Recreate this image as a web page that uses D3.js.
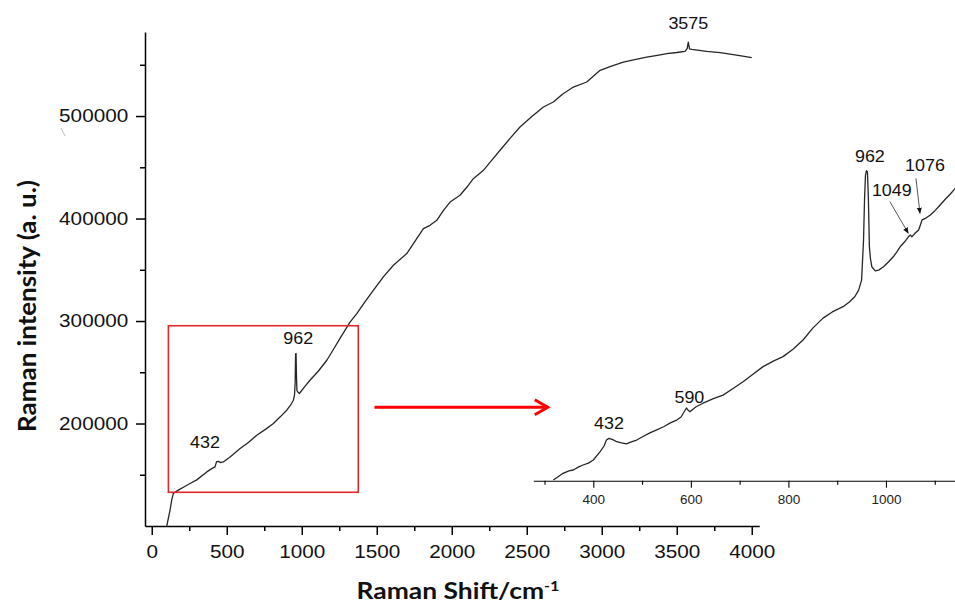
<!DOCTYPE html>
<html><head><meta charset="utf-8">
<script src="https://cdn.jsdelivr.net/npm/d3@7"></script>
<style>body{margin:0;background:#fff}svg{display:block}</style>
</head><body>
<svg id="chart" width="955" height="605"></svg>
<script>
// ---------- data ----------
const mainShift = [100,122,133,144,177,220,255,300,367,400,422,432,445,460,477,520,589,640,700,760,811,860,900,930,944,952,956,959,962,965,968,975,984,1020,1055,1110,1167,1210,1255,1322,1367,1420,1477,1544,1611,1700,1760,1811,1855,1900,1945,1989,2055,2100,2144,2211,2270,2322,2390,2455,2530,2611,2677,2740,2811,2900,2989,3060,3144,3220,3300,3380,3433,3500,3555,3570,3577,3585,3600,3650,3700,3789,3877,3940,4000];
const mainIntensity = [100000,115600,125300,131800,135000,138500,141500,145000,152800,156000,157700,162800,163000,161800,162500,167000,175600,181000,188600,194500,200000,207000,213000,219000,222700,228000,240000,268000,268300,245000,232000,230500,229300,236000,242200,251000,261700,272000,283000,299000,307300,318500,330000,343000,354400,365800,379000,390200,393400,398300,408000,416100,422700,430500,438900,447000,457500,466600,478500,489300,499000,508800,513700,521500,528300,533200,544600,548500,552700,555000,557500,559500,560900,562000,563100,566000,572200,565500,565000,564000,563100,561800,559900,558500,557000];

const insetShift = [318,330,338,350,359,370,379,390,400,414,422,427,432,440,448,458,468,478,489,500,516,530,544,558,571,580,586,591,594,598,610,625,645,666,685,707,728,748,770,789,810,830,850,871,890,912,925,936,944,950,954,956,958,960,962,964,966,968,971,978,985,995,1005,1015,1022,1029,1038,1046,1050,1053,1060,1067,1074,1082,1091,1100,1111,1122,1132,1142];
const insetIntensity = [140300,142000,143100,144100,144500,145800,146600,147400,148700,152200,154600,157100,157800,157300,156400,155900,155500,156300,157100,158400,160100,161400,162700,164300,165500,166800,168900,170600,169700,169000,171000,172600,174400,176000,178600,181600,184900,188000,190400,192200,195400,199200,204200,208400,211000,213200,215200,217400,220200,224400,241200,258100,268600,270400,269900,258100,238400,233700,230000,228300,228600,230000,232000,234200,236200,238400,240400,242600,243400,242600,244200,245500,249700,250500,251800,253500,256000,258500,260600,263000];

const xTickValues = [0,500,1000,1500,2000,2500,3000,3500,4000];
const xMinorTicks = [250,750,1250,1750,2250,2750,3250,3750];
const yTickValues = [200000,300000,400000,500000];
const yMinorTicks = [150000,250000,350000,450000,550000];
const insetTickValues = [400,600,800,1000];
const insetMinorTicks = [300,500,700,900,1100];

const mainLabels = ["432","962","3575"];
const mainLabelShift = [355,977,3577];
const mainLabelIntensity = [181300,283100,590500];

const insetLabels = ["432","590","962","1049","1076"];
const insetLabelShift = [432,597,967,1012,1080];
const insetLabelIntensity = [164300,175300,276300,262300,272800];

const insetArrowFromShift = [1008,1061.5];
const insetArrowFromIntensity = [257400,267200];
const insetArrowToShift = [1045.7,1069.7];
const insetArrowToIntensity = [244100,252500];

const zoomBoxShift = [111,1377];
const zoomBoxIntensity = [132900,295400];
const bigArrowShift = [1485,2640];
const bigArrowIntensity = 215800;

// ---------- scales ----------
const svg = d3.select("#chart");
const x = d3.scaleLinear().domain([-45,4050]).range([145,759.25]);
const y = d3.scaleLinear().domain([100000,582000]).range([526,32]);
const xi = d3.scaleLinear().domain([277,1141.5]).range([533.3,955]);
const yi = d3.scaleLinear().domain([140000,270000]).range([480.7,171.7]);

const numFont = "'Liberation Sans', Arial, sans-serif";
const SX = 1.12;

svg.append("defs").append("marker")
  .attr("id","ah").attr("viewBox","0 0 10 10").attr("refX",9).attr("refY",5)
  .attr("markerWidth",7).attr("markerHeight",7).attr("orient","auto")
  .append("path").attr("d","M0,1 L10,5 L0,9 Z").attr("fill","#111");

// stray mark in reference
svg.append("line").attr("x1",61).attr("y1",128).attr("x2",65).attr("y2",136)
  .attr("stroke","#bbb").attr("stroke-width",1);

// ---------- main axes ----------
function styleAxis(g, fs){
  g.selectAll("path,line").attr("stroke","#000").attr("stroke-width",1.5);
  g.attr("font-family",numFont).attr("font-size",fs);
  g.selectAll("text").attr("fill","#111").attr("transform",`scale(${SX},1)`);
}
const gx = svg.append("g").attr("transform","translate(0,526)")
  .call(d3.axisBottom(x).tickValues(xTickValues).tickSize(9).tickSizeOuter(0).tickPadding(10).tickFormat(d3.format("d")));
styleAxis(gx,18.5);
const gxm = svg.append("g").attr("transform","translate(0,526)")
  .call(d3.axisBottom(x).tickValues(xMinorTicks).tickSize(5).tickSizeOuter(0).tickFormat(""));
gxm.select(".domain").remove();
gxm.selectAll("line").attr("stroke","#000").attr("stroke-width",1.5);

const gy = svg.append("g").attr("transform","translate(145,0)")
  .call(d3.axisLeft(y).tickValues(yTickValues).tickSize(9).tickSizeOuter(0).tickPadding(6).tickFormat(d3.format("d")));
styleAxis(gy,18.5);
const gym = svg.append("g").attr("transform","translate(145,0)")
  .call(d3.axisLeft(y).tickValues(yMinorTicks).tickSize(5).tickSizeOuter(0).tickFormat(""));
gym.select(".domain").remove();
gym.selectAll("line").attr("stroke","#000").attr("stroke-width",1.5);

// ---------- main curve ----------
const mainData = mainShift.map((s,i)=>[s,mainIntensity[i]]);
svg.append("path").datum(mainData)
  .attr("d", d3.line().x(d=>x(d[0])).y(d=>y(d[1])))
  .attr("fill","none").attr("stroke","#262626").attr("stroke-width",1.3).attr("stroke-linejoin","round");

// labels
function numLabel(px,py,t,fs){
  svg.append("text").attr("transform",`translate(${px},${py}) scale(${SX},1)`)
    .attr("text-anchor","middle").attr("dy","0.36em")
    .attr("font-family",numFont).attr("font-size",fs).attr("fill","#111").text(t);
}
mainLabels.forEach((t,i)=>numLabel(x(mainLabelShift[i]), y(mainLabelIntensity[i]), t, 16));

// zoom box
svg.append("rect")
  .attr("x",x(zoomBoxShift[0])).attr("y",y(zoomBoxIntensity[1]))
  .attr("width",x(zoomBoxShift[1])-x(zoomBoxShift[0]))
  .attr("height",y(zoomBoxIntensity[0])-y(zoomBoxIntensity[1]))
  .attr("fill","none").attr("stroke","#e02828").attr("stroke-width",1.6);

// big red arrow
const ax0 = x(bigArrowShift[0]), ax1 = x(bigArrowShift[1]), ay = y(bigArrowIntensity);
svg.append("line").attr("x1",ax0).attr("x2",ax1-1).attr("y1",ay).attr("y2",ay)
  .attr("stroke","#ff0000").attr("stroke-width",3);
svg.append("path").attr("d",`M${ax1-13},${ay-7.5} L${ax1},${ay} L${ax1-13},${ay+7.5}`)
  .attr("fill","none").attr("stroke","#ff0000").attr("stroke-width",3).attr("stroke-linejoin","miter");

// ---------- inset ----------
const gi = svg.append("g").attr("transform","translate(0,480.7)")
  .call(d3.axisBottom(xi).tickValues(insetTickValues).tickSize(7).tickSizeOuter(0).tickPadding(7).tickFormat(d3.format("d")));
gi.selectAll("path,line").attr("stroke","#000").attr("stroke-width",1.1);
gi.attr("font-family",numFont).attr("font-size",12.5);
gi.selectAll("text").attr("fill","#222").attr("transform","scale(1.08,1)");
const gim = svg.append("g").attr("transform","translate(0,480.7)")
  .call(d3.axisBottom(xi).tickValues(insetMinorTicks).tickSize(4).tickSizeOuter(0).tickFormat(""));
gim.select(".domain").remove();
gim.selectAll("line").attr("stroke","#000").attr("stroke-width",1.1);

const insetData = insetShift.map((s,i)=>[s,insetIntensity[i]]);
svg.append("path").datum(insetData)
  .attr("d", d3.line().x(d=>xi(d[0])).y(d=>yi(d[1])))
  .attr("fill","none").attr("stroke","#262626").attr("stroke-width",1.3).attr("stroke-linejoin","round");

insetLabels.forEach((t,i)=>numLabel(xi(insetLabelShift[i]), yi(insetLabelIntensity[i]), t, 16));

insetArrowFromShift.forEach((s,i)=>{
  svg.append("line")
    .attr("x1",xi(s)).attr("y1",yi(insetArrowFromIntensity[i]))
    .attr("x2",xi(insetArrowToShift[i])).attr("y2",yi(insetArrowToIntensity[i]))
    .attr("stroke","#444").attr("stroke-width",0.9).attr("marker-end","url(#ah)");
});

// ---------- axis titles ----------
const titleFont = "Lato, 'Open Sans', sans-serif";
const xt = svg.append("text").attr("text-anchor","middle")
  .attr("font-family",titleFont).attr("font-weight","bold").attr("font-size",22).attr("fill","#111");
xt.append("tspan").text("Raman Shift/cm");
xt.append("tspan").attr("font-size",13.5).attr("dy",-8.5).text("-1");
{
  const w = xt.node().getComputedTextLength();
  const s = 203 / w;
  xt.attr("transform",`translate(458,599) scale(${s},1)`);
}
const yt = svg.append("text").attr("text-anchor","middle")
  .attr("font-family",titleFont).attr("font-weight","bold").attr("font-size",22).attr("fill","#111")
  .text("Raman intensity (a. u.)");
{
  const w = yt.node().getComputedTextLength();
  const s = 252 / w;
  yt.attr("transform",`translate(36,306) rotate(-90) scale(${s},1.1)`);
}
</script>
</body></html>
